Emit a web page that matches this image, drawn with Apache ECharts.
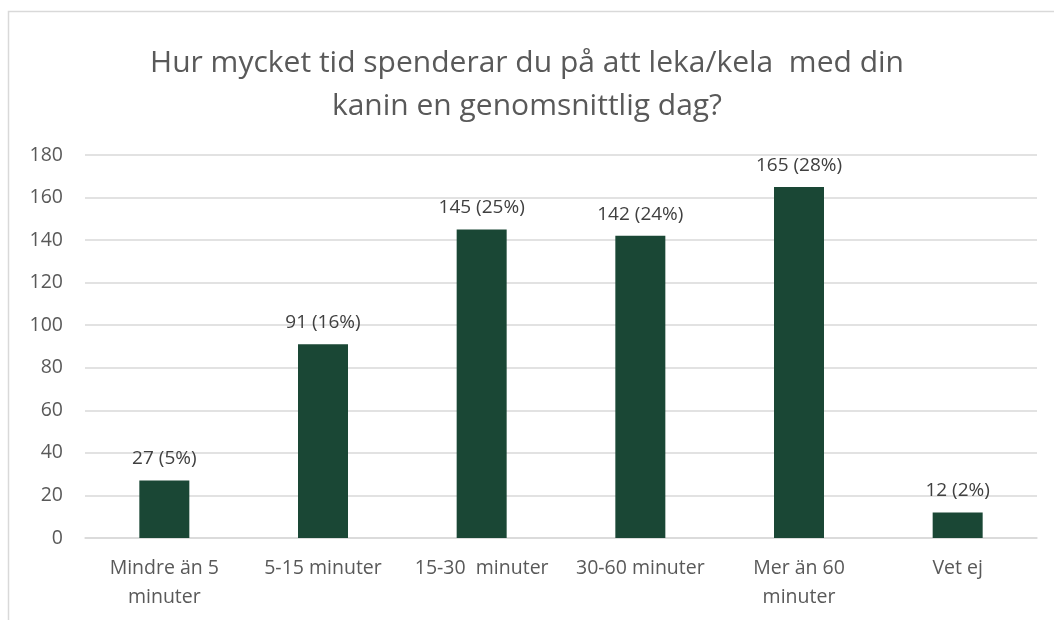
<!DOCTYPE html>
<html>
<head>
<meta charset="utf-8">
<script src="https://cdn.jsdelivr.net/npm/echarts@6/dist/echarts.min.js"></script>
<style>
    html, body { margin: 0; padding: 0; background: #fff; }
    #chart { width: 1054px; height: 620px; }
</style>
</head>
<body>
<div id="chart"></div>
<script>
// kategorier och värden
var categories = ['Mindre än 5\nminuter', '5-15 minuter', '15-30  minuter', '30-60 minuter', 'Mer än 60\nminuter', 'Vet ej'];
var counts = [27, 91, 145, 142, 165, 12];
var percents = [5, 16, 25, 24, 28, 2];
var yTicks = [0, 180, 20]; // min, max, steg

var FONT = '"Open Sans", Lato, sans-serif';

var chart = echarts.init(document.getElementById('chart'), null, { renderer: 'canvas' });

chart.setOption({
    backgroundColor: '#fff',
    animation: false,
    title: {
        text: 'Hur mycket tid spenderar du på att leka/kela  med din\nkanin en genomsnittlig dag?',
        left: 'center',
        top: 37,
        textStyle: {
            fontFamily: FONT,
            fontSize: 30,
            fontWeight: 'normal',
            color: '#595959',
            lineHeight: 43
        }
    },
    graphic: [{
        type: 'rect',
        shape: { x: 8.5, y: 11.5, width: 1100, height: 700 },
        style: { fill: 'none', stroke: '#d9d9d9', lineWidth: 1.5 },
        silent: true
    }],
    grid: {
        left: 85,
        right: 17,
        top: 155,
        bottom: 82
    },
    xAxis: {
        type: 'category',
        data: categories,
        axisLine: { lineStyle: { color: '#d9d9d9', width: 1.5 } },
        axisTick: { show: false },
        axisLabel: {
            fontFamily: FONT,
            fontSize: 19.5,
            color: '#595959',
            margin: 16,
            lineHeight: 29,
            interval: 0
        }
    },
    yAxis: {
        type: 'value',
        min: yTicks[0],
        max: yTicks[1],
        interval: yTicks[2],
        axisLine: { show: false },
        axisTick: { show: false },
        splitLine: { lineStyle: { color: '#d9d9d9', width: 1.5 } },
        axisLabel: {
            fontFamily: FONT,
            fontSize: 19.5,
            color: '#595959',
            margin: 22
        }
    },
    series: [{
        type: 'bar',
        data: counts,
        barWidth: 50,
        itemStyle: { color: '#1a4735' },
        label: {
            show: true,
            position: 'top',
            distance: 12,
            fontFamily: FONT,
            fontSize: 19,
            color: '#404040',
            formatter: function(p) {
                return counts[p.dataIndex] + ' (' + percents[p.dataIndex] + '%)';
            }
        }
    }]
});
</script>
</body>
</html>
